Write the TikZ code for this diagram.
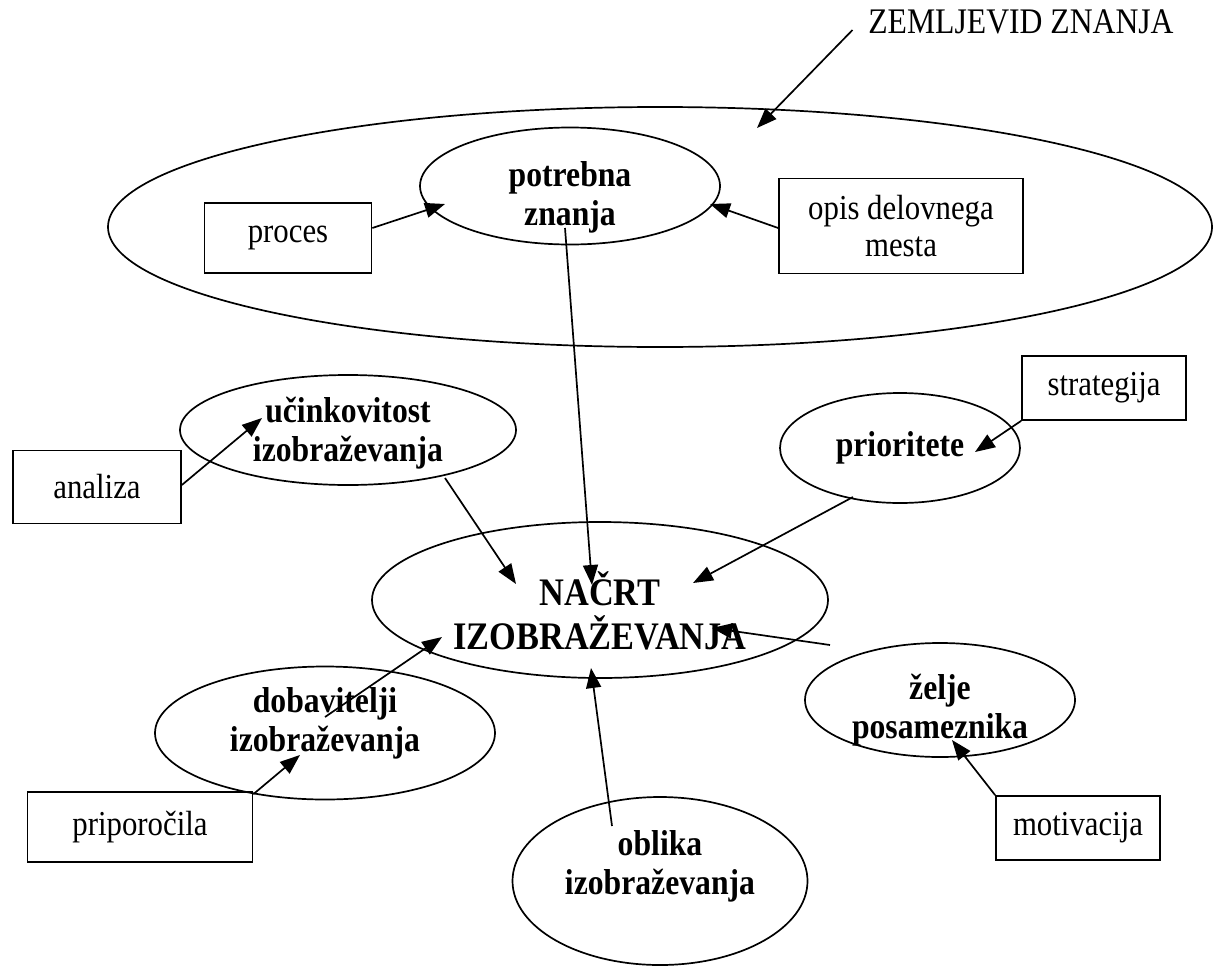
\documentclass[tikz,border=0pt]{standalone}
\usepackage{fontspec}
\setmainfont{Liberation Serif}[FakeStretch=0.88]
\usetikzlibrary{arrows.meta,calc,shapes.geometric}

\begin{document}
\begin{tikzpicture}[x=1pt,y=-1pt,line width=1.7pt,
  oval/.style={draw,ellipse,inner sep=0pt},
  otext/.style={align=center,font=\fontsize{36}{39}\selectfont\bfseries},
  box/.style={draw,rectangle,inner sep=0pt,align=center,font=\fontsize{35}{37}\selectfont},
  >={Triangle[length=20pt,width=15pt]}]
\useasboundingbox (0,0) rectangle (1214,966);
\node[oval,minimum width=1104,minimum height=240] (mapa) at (660,227) {};
\node[inner sep=0pt,font=\fontsize{36}{38}\selectfont] (zemljevid) at (1021,22) {ZEMLJEVID ZNANJA};
\node[oval,minimum width=300,minimum height=117,label={[otext,yshift=-11pt]center:{potrebna\\ znanja}}] (znanja) at (570,186) {};
\node[box,minimum width=167,minimum height=70] (proces) at (288,238) {proces};
\node[box,minimum width=244,minimum height=95] (opis) at (901,226) {opis delovnega\\ mesta};
\node[box,minimum width=164,minimum height=64] (strategija) at (1104,388) {strategija};
\node[oval,minimum width=240,minimum height=110,label={[otext]center:prioritete}] (prioritete) at (900,448) {};
\node[oval,minimum width=336,minimum height=110,label={[otext,yshift=-3pt]center:{učinkovitost\\ izobraževanja}}] (ucinkovitost) at (348,430) {};
\node[box,minimum width=168,minimum height=73] (analiza) at (97,487) {analiza};
\node[oval,minimum width=456,minimum height=156,label={[otext,font=\fontsize{39}{44}\selectfont\bfseries,yshift=-11pt]center:{NAČRT\\ IZOBRAŽEVANJA}}] (nacrt) at (600,600) {};
\node[oval,minimum width=270,minimum height=114,label={[otext,yshift=-10pt]center:{želje\\ posameznika}}] (zelje) at (940,700) {};
\node[box,minimum width=164,minimum height=64] (motivacija) at (1078,828) {motivacija};
\node[oval,minimum width=340,minimum height=133,label={[otext,yshift=10pt]center:{dobavitelji\\ izobraževanja}}] (dobavitelji) at (325,733) {};
\node[box,minimum width=225,minimum height=70] (priporocila) at (140,827) {priporočila};
\node[oval,minimum width=295,minimum height=168,label={[otext,yshift=15pt]center:{oblika\\ izobraževanja}}] (oblika) at (660,881) {};

\draw[->] ($(zemljevid.west)+(-15,8)$) -- ($(mapa)+(97,-99)$);
\draw[->] ($(proces.east)+(0,-10)$) -- ($(znanja)+(-125,18)$);
\draw[->] ($(opis.west)+(0,2)$) -- ($(znanja)+(140,18)$);
\draw[->] ($(znanja)+(-5,42)$) -- ($(nacrt)+(-8,-15)$);
\draw[->] ($(ucinkovitost)+(97,48)$) -- ($(nacrt)+(-84,-16)$);
\draw[->] ($(prioritete)+(-47,49)$) -- ($(nacrt)+(93,-17)$);
\draw[->] (strategija.south west) -- ($(prioritete)+(75,4)$);
\draw[->] ($(analiza.east)+(0,-2)$) -- ($(ucinkovitost)+(-86,-12)$);
\draw[->] ($(dobavitelji)+(0,-16)$) -- ($(nacrt)+(-158,37)$);
\draw[->] ($(priporocila.north east)+(0,3)$) -- ($(dobavitelji)+(-25,22)$);
\draw[->] ($(oblika)+(-48,-55)$) -- ($(nacrt)+(-9,68)$);
\draw[->] ($(zelje)+(-110,-55)$) -- ($(nacrt)+(112,28)$);
\draw[->] (motivacija.north west) -- ($(zelje)+(12,40)$);
\end{tikzpicture}
\end{document}
